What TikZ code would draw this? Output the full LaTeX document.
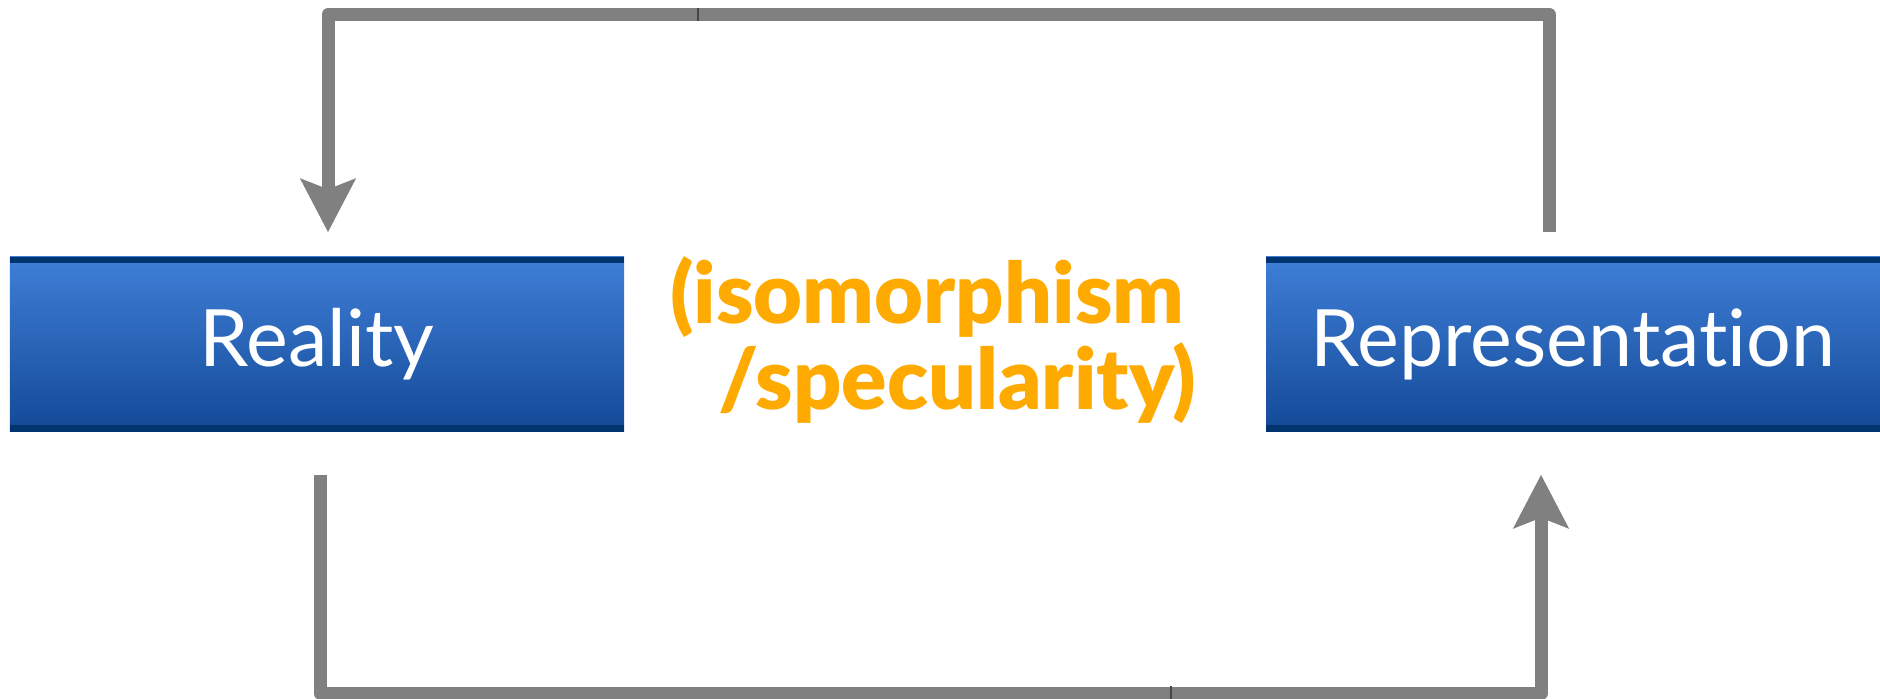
\documentclass[tikz,border=0pt]{standalone}
\usepackage{fontspec}
\setmainfont{Lato}[Ligatures=NoCommon]
\newfontfamily\isofont{Lato Black}[Ligatures=NoCommon]
\usepackage{tikz}
\usetikzlibrary{arrows.meta,calc,positioning}
\definecolor{boxtop}{RGB}{63,127,215}
\definecolor{boxbottom}{RGB}{19,73,151}
\definecolor{boxedge}{RGB}{0,52,111}
\definecolor{flowgray}{RGB}{128,128,128}
\definecolor{seamgray}{RGB}{70,70,70}
\definecolor{mirror}{RGB}{255,170,0}

\begin{document}
\begin{tikzpicture}[
  box/.style={minimum width=6.14cm, minimum height=1.75cm, inner sep=0pt,
    top color=boxtop, bottom color=boxbottom, text=white,
    font=\fontsize{22.5}{28}\selectfont,
    path picture={
      \fill[boxedge] (path picture bounding box.north west) rectangle ([yshift=-0.065cm]path picture bounding box.north east);
      \fill[boxedge] (path picture bounding box.south west) rectangle ([yshift=0.065cm]path picture bounding box.south east);
    }},
  arr/.style={-{Stealth[length=5.3mm, width=5.4mm, inset=1mm]}, line width=0.13cm, flowgray, line join=round},
  seam/.style={seamgray, line width=0.6pt}
]
\useasboundingbox (0,0) rectangle (18.8,6.99);

\node[box] (reality) at (3.17,3.545) {Reality};
\node[box] (repr) at (15.73,3.545) {Representation};

\node[align=right, inner sep=0pt, anchor=east, text=mirror,
  font=\fontsize{24}{24.5}\selectfont\isofont] (iso) at (11.97,3.59)
{(isomorphism\hspace*{0.12cm}\\/specularity)};

% loop over the top: representation -> reality
\draw[arr] ($(repr.north)+(-0.24,0.24)$) -- ++(0,2.18) -| ($(reality.north)+(0.11,0.24)$);
% loop underneath: reality -> representation
\draw[arr] ($(reality.south)+(0.035,-0.42)$) -- ++(0,-2.19) -| ($(repr.south)+(-0.32,-0.42)$);

\coordinate (seamtop) at (6.98,6.843);
\coordinate (seambot) at (11.71,0.06);
\draw[seam] ([yshift=-0.065cm]seamtop) -- ([yshift=0.065cm]seamtop);
\draw[seam] ([yshift=-0.065cm]seambot) -- ([yshift=0.065cm]seambot);
\end{tikzpicture}
\end{document}
